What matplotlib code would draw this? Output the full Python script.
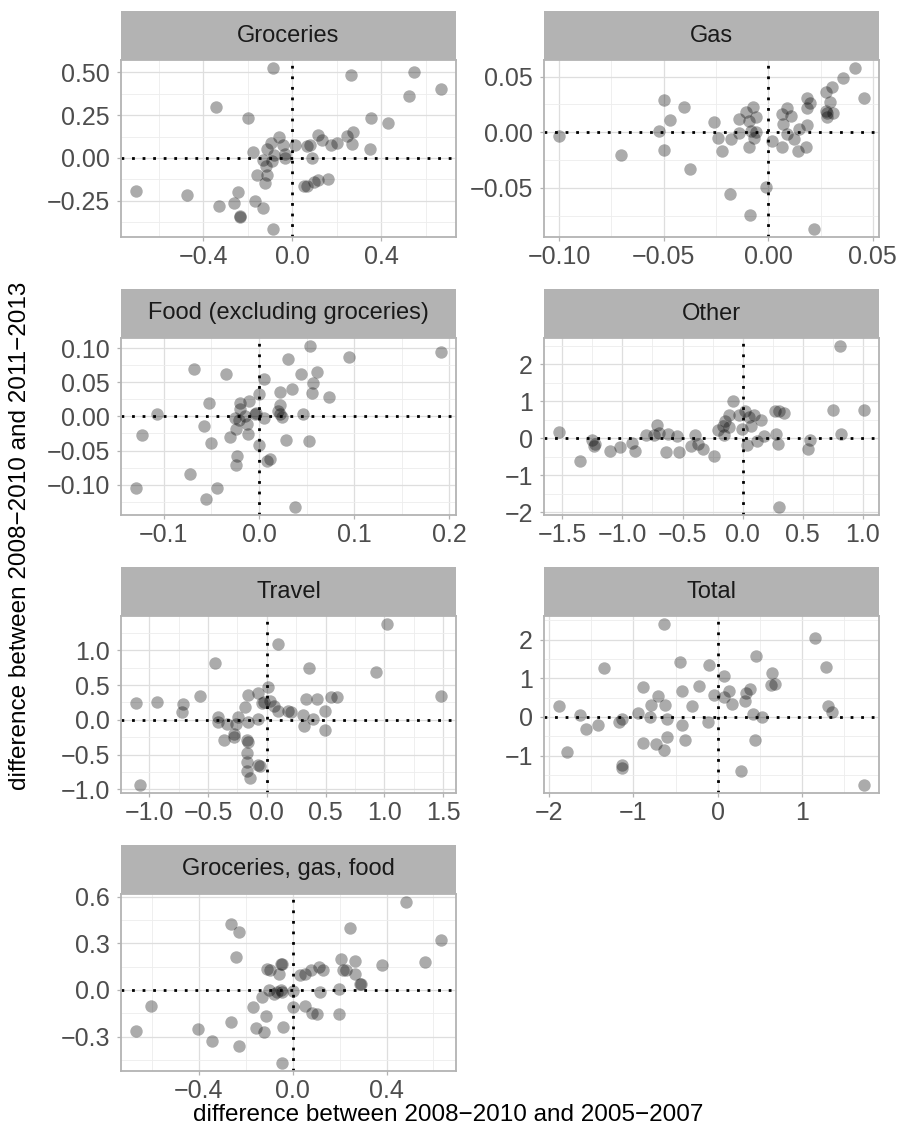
import numpy as np
import matplotlib
matplotlib.use("Agg")
import matplotlib.pyplot as plt
from matplotlib.ticker import FixedLocator, FixedFormatter

plt.rcParams['font.family'] = ['Liberation Sans', 'DejaVu Sans']

# panel titles, in facet order
panels = ["Groceries", "Gas", "Food (excluding groceries)", "Other",
          "Travel", "Total", "Groceries, gas, food"]

groceries_x = [-0.084, 0.263, 0.549, 0.667, 0.526, -0.342, -0.199, 0.353, 0.428, 0.114,
               0.133, 0.272, 0.245, 0.268, 0.203, 0.175, 0.350, 0.013, 0.066, 0.081,
               0.091, -0.057, -0.096, -0.043, -0.114, -0.178, -0.034, -0.031, -0.081, -0.132,
               -0.091, -0.118, -0.158, -0.114, -0.120, 0.055, 0.066, 0.096, 0.118, 0.163,
               -0.700, -0.472, -0.245, -0.330, -0.263, -0.166, -0.133, -0.236, -0.233, -0.087]
groceries_y = [0.525, 0.483, 0.502, 0.403, 0.359, 0.297, 0.231, 0.231, 0.203, 0.134,
               0.103, 0.153, 0.128, 0.083, 0.089, 0.076, 0.054, 0.076, 0.068, 0.076,
               -0.002, 0.124, 0.089, 0.076, 0.050, 0.037, 0.021, 0.002, 0.017, -0.014,
               -0.017, -0.047, -0.099, -0.099, -0.149, -0.163, -0.163, -0.143, -0.130, -0.124,
               -0.192, -0.215, -0.200, -0.279, -0.262, -0.250, -0.295, -0.337, -0.343, -0.415]

gas_x = [0.0414, 0.0359, 0.0457, 0.0306, 0.0275, 0.0184, 0.0198, 0.0184, 0.0294, 0.0275,
         0.0283, 0.0311, 0.0283, 0.0092, 0.0068, 0.0108, 0.0071, 0.0187, 0.0148, 0.0092,
         0.0124, 0.0068, 0.0140, 0.0179, 0.0017, -0.0075, -0.0106, -0.0138, -0.0090, -0.0059,
         -0.0138, -0.0083, -0.0059, -0.0067, -0.0094, -0.0178, -0.0241, -0.0260, -0.0222, -0.0181,
         -0.0011, -0.0087, 0.0219, -0.1000, -0.0706, -0.0500, -0.0468, -0.0403, -0.0522, -0.0498,
         -0.0373]
gas_y = [0.0578, 0.0491, 0.0305, 0.0410, 0.0365, 0.0311, 0.0260, 0.0219, 0.0269, 0.0195,
         0.0171, 0.0174, 0.0135, 0.0219, 0.0165, 0.0144, 0.0075, 0.0069, 0.0030, -0.0015,
         -0.0060, -0.0129, -0.0171, -0.0135, -0.0081, 0.0231, 0.0186, 0.0120, 0.0105, 0.0135,
         -0.0009, 0.0009, 0.0006, -0.0051, -0.0135, -0.0060, -0.0051, 0.0096, -0.0171, -0.0560,
         -0.0494, -0.0746, -0.0871, -0.0030, -0.0204, 0.0290, 0.0114, 0.0225, 0.0015, -0.0159,
         -0.0335]

food_x = [0.0531, 0.1909, 0.0941, 0.0301, -0.0685, -0.0343, 0.0441, 0.0608, 0.0566, 0.0049,
          0.0346, 0.0224, 0.0556, 0.0731, -0.0003, -0.0528, -0.0108, -0.0196, -0.0203, 0.0217,
          0.0196, 0.0217, 0.0241, 0.0462, -0.0028, -0.0038, 0.0049, -0.0248, -0.0213, -0.0126,
          -0.0115, -0.0238, -0.0308, -0.0503, -0.0573, -0.1077, -0.1227, -0.0003, 0.0283, 0.0521,
          -0.0231, -0.0245, 0.0084, 0.0112, -0.0720, -0.0441, -0.0552, -0.1290, 0.0381, -0.0150]
food_y = [0.1031, 0.0944, 0.0867, 0.0843, 0.0692, 0.0620, 0.0620, 0.0644, 0.0484, 0.0542,
          0.0397, 0.0363, 0.0344, 0.0281, 0.0329, 0.0199, 0.0223, 0.0194, 0.0111, 0.0160,
          0.0073, 0.0029, -0.0010, 0.0039, 0.0048, 0.0039, -0.0024, -0.0024, -0.0058, -0.0116,
          -0.0252, -0.0179, -0.0300, -0.0387, -0.0145, 0.0029, -0.0276, -0.0412, -0.0339, -0.0358,
          -0.0581, -0.0712, -0.0654, -0.0630, -0.0843, -0.1051, -0.1211, -0.1046, -0.1327, 0.0000]

other_x = [0.808, 0.301, -1.526, -1.357, -1.253, -1.231, -1.240, -1.100, -1.017, -0.919,
           -0.897, -0.802, -0.738, -0.710, -0.696, -0.624, -0.635, -0.543, -0.529, -0.396,
           -0.432, -0.368, -0.329, -0.240, -0.206, -0.167, -0.150, -0.153, -0.111, -0.084,
           -0.111, -0.033, 0.022, 0.056, 0.097, 0.070, 0.153, -0.006, 0.033, 0.117,
           0.181, 0.270, 0.306, 0.343, 0.279, 0.292, 0.543, 0.563, 0.752, 1.008, 0.822]
other_y = [2.498, -1.862, 0.161, -0.609, -0.036, -0.143, -0.215, -0.340, -0.233, -0.125,
           -0.340, 0.081, 0.081, 0.349, 0.143, 0.107, -0.367, 0.054, -0.385, 0.098,
           -0.206, -0.161, -0.304, -0.474, 0.233, 0.322, 0.466, 0.098, 0.304, 1.021,
           0.618, 0.636, 0.725, 0.573, 0.618, 0.331, 0.483, 0.260, -0.170, -0.063,
           0.054, 0.725, 0.725, 0.689, 0.125, -0.143, -0.286, -0.036, 0.770, 0.752, 0.107]

travel_x = [1.020, 0.093, -0.439, 0.357, 0.929, 1.479, -1.110, -0.935, -0.714, -0.722,
            -0.572, -0.156, -0.071, 0.008, 0.023, -0.028, -0.042, 0.062, 0.093, 0.184,
            0.204, -0.184, 0.331, 0.431, 0.544, 0.601, 0.496, 0.306, 0.391, 0.320,
            0.496, -0.411, -0.419, -0.340, -0.249, -0.266, -0.164, -0.071, -0.360, -0.283,
            -0.275, -0.170, -0.156, -0.170, -0.170, -0.170, -0.147, -0.071, -0.057, -1.082]
travel_y = [1.378, 1.093, 0.812, 0.751, 0.694, 0.347, 0.242, 0.252, 0.228, 0.119,
            0.337, 0.361, 0.380, 0.475, 0.276, 0.252, 0.238, 0.204, 0.133, 0.133,
            0.119, 0.181, 0.299, 0.299, 0.333, 0.323, 0.124, 0.076, 0.010, -0.090,
            -0.143, 0.038, -0.024, -0.057, 0.048, -0.057, -0.024, 0.014, -0.285, -0.209,
            -0.247, -0.295, -0.318, -0.475, -0.603, -0.732, -0.831, -0.651, -0.660, -0.936]

total_x = [-0.636, 1.154, 0.451, -0.447, -0.103, -1.348, 1.289, 0.075, 0.648, 0.680,
           0.628, -0.885, -0.419, -0.221, -0.711, -0.040, 0.075, 0.134, 0.379, 0.332,
           0.320, 0.174, -0.308, -0.625, -0.791, -1.881, -0.945, -0.806, -0.605, -1.632,
           -1.130, -1.170, -1.415, -1.565, -0.419, -0.119, 0.419, 0.522, 1.312, 1.360,
           -0.885, -0.727, -0.597, -0.387, -0.636, -1.783, 0.443, -1.138, -1.138, 0.281, 1.735]
total_y = [2.402, 2.034, 1.573, 1.419, 1.333, 1.274, 1.291, 1.060, 1.128, 0.863,
           0.821, 0.761, 0.675, 0.795, 0.547, 0.564, 0.521, 0.675, 0.709, 0.607,
           0.419, 0.333, 0.291, 0.316, 0.308, 0.291, 0.103, 0.009, -0.051, 0.043,
           -0.051, -0.128, -0.214, -0.316, -0.205, -0.145, 0.077, 0.009, 0.274, 0.120,
           -0.675, -0.692, -0.521, -0.590, -0.863, -0.915, -0.607, -1.248, -1.333, -1.393, -1.761]

ggf_x = [0.482, -0.265, -0.230, 0.245, 0.631, -0.243, 0.206, 0.264, 0.380, 0.565,
         -0.109, -0.095, -0.050, -0.045, -0.057, 0.033, 0.054, 0.078, 0.113, 0.129,
         0.213, 0.228, 0.267, 0.288, 0.292, 0.196, 0.118, 0.001, -0.102, -0.081,
         -0.067, -0.050, -0.045, -0.133, -0.170, -0.116, 0.000, 0.054, 0.082, 0.104,
         0.196, -0.606, -0.667, -0.404, -0.265, -0.342, -0.228, -0.155, -0.121, -0.041, -0.045]
ggf_y = [0.566, 0.423, 0.370, 0.402, 0.321, 0.215, 0.198, 0.189, 0.162, 0.181,
         0.138, 0.130, 0.168, 0.164, 0.104, 0.098, 0.104, 0.126, 0.147, 0.126,
         0.130, 0.126, 0.100, 0.040, 0.036, 0.006, -0.013, -0.009, 0.002, -0.023,
         -0.013, 0.002, -0.013, -0.045, -0.109, -0.168, -0.109, -0.104, -0.151, -0.155,
         -0.157, -0.102, -0.266, -0.249, -0.204, -0.328, -0.360, -0.245, -0.268, -0.236, -0.470]

xs = [groceries_x, gas_x, food_x, other_x, travel_x, total_x, ggf_x]
ys = [groceries_y, gas_y, food_y, other_y, travel_y, total_y, ggf_y]

# tick values and labels for each panel
x_ticks = [[-0.4, 0.0, 0.4], [-0.10, -0.05, 0.0, 0.05], [-0.1, 0.0, 0.1, 0.2],
           [-1.5, -1.0, -0.5, 0.0, 0.5, 1.0], [-1.0, -0.5, 0.0, 0.5, 1.0, 1.5],
           [-2, -1, 0, 1], [-0.4, 0.0, 0.4]]
x_labels = [["−0.4", "0.0", "0.4"], ["−0.10", "−0.05", "0.00", "0.05"],
            ["−0.1", "0.0", "0.1", "0.2"], ["−1.5", "−1.0", "−0.5", "0.0", "0.5", "1.0"],
            ["−1.0", "−0.5", "0.0", "0.5", "1.0", "1.5"], ["−2", "−1", "0", "1"],
            ["−0.4", "0.0", "0.4"]]
y_ticks = [[-0.25, 0.0, 0.25, 0.5], [-0.05, 0.0, 0.05], [-0.10, -0.05, 0.0, 0.05, 0.10],
           [-2, -1, 0, 1, 2], [-1.0, -0.5, 0.0, 0.5, 1.0], [-1, 0, 1, 2],
           [-0.3, 0.0, 0.3, 0.6]]
y_labels = [["−0.25", "0.00", "0.25", "0.50"], ["−0.05", "0.00", "0.05"],
            ["−0.10", "−0.05", "0.00", "0.05", "0.10"], ["−2", "−1", "0", "1", "2"],
            ["−1.0", "−0.5", "0.0", "0.5", "1.0"], ["−1", "0", "1", "2"],
            ["−0.3", "0.0", "0.3", "0.6"]]


def minors(t):
	step = t[1] - t[0]
	return [t[0] - step/2] + [v + step/2 for v in t]


W, H = 897, 1141
fig = plt.figure(figsize=(W/100, H/100), dpi=100)

col_x = [121, 544]
row_top = [60, 338, 616, 894]
pw, ph, sh = 335, 177, 49

for k in range(len(panels)):
	r, c = k // 2, k % 2
	x0, top = col_x[c], row_top[r]
	ax = fig.add_axes([x0/W, 1-(top+ph)/H, pw/W, ph/H])
	ax.scatter(xs[k], ys[k], s=80, color='black', alpha=0.33, linewidths=0, zorder=3)
	ax.axhline(0, color='black', lw=2, ls=(0, (1, 2.8)), zorder=2)
	ax.axvline(0, color='black', lw=2, ls=(0, (1, 2.8)), zorder=2)
	ax.margins(0.05)

	ax.xaxis.set_major_locator(FixedLocator(x_ticks[k]))
	ax.xaxis.set_major_formatter(FixedFormatter(x_labels[k]))
	ax.yaxis.set_major_locator(FixedLocator(y_ticks[k]))
	ax.yaxis.set_major_formatter(FixedFormatter(y_labels[k]))
	ax.xaxis.set_minor_locator(FixedLocator(minors(x_ticks[k])))
	ax.yaxis.set_minor_locator(FixedLocator(minors(y_ticks[k])))
	ax.grid(which='major', color='#DEDEDE', lw=0.9, zorder=0)
	ax.grid(which='minor', color='#EDEDED', lw=0.6, zorder=0)
	ax.set_axisbelow(True)
	ax.tick_params(which='major', length=3, width=0.9, color='#B3B3B3',
		labelsize=18, labelcolor='#4D4D4D', pad=3)
	ax.tick_params(axis='y', which='major', pad=5)
	ax.tick_params(which='minor', length=0)
	for sp in ax.spines.values():
		sp.set_color('#B3B3B3')
		sp.set_linewidth(1.3)

	sax = fig.add_axes([x0/W, 1-top/H, pw/W, sh/H])
	sax.set_facecolor('#B3B3B3')
	sax.set_xticks([])
	sax.set_yticks([])
	for sp in sax.spines.values():
		sp.set_visible(False)
	sax.text(0.5, 0.5, panels[k], ha='center', va='center', fontsize=17,
		color='#1A1A1A', transform=sax.transAxes)

fig.text(448/W, 1-1115/H, "difference between 2008−2010 and 2005−2007",
	ha='center', va='center', fontsize=17.5)
fig.text(20/W, 1-536/H, "difference between 2008−2010 and 2011−2013",
	ha='center', va='center', rotation=90, fontsize=17.5)

fig.savefig("out.png", dpi=100)
